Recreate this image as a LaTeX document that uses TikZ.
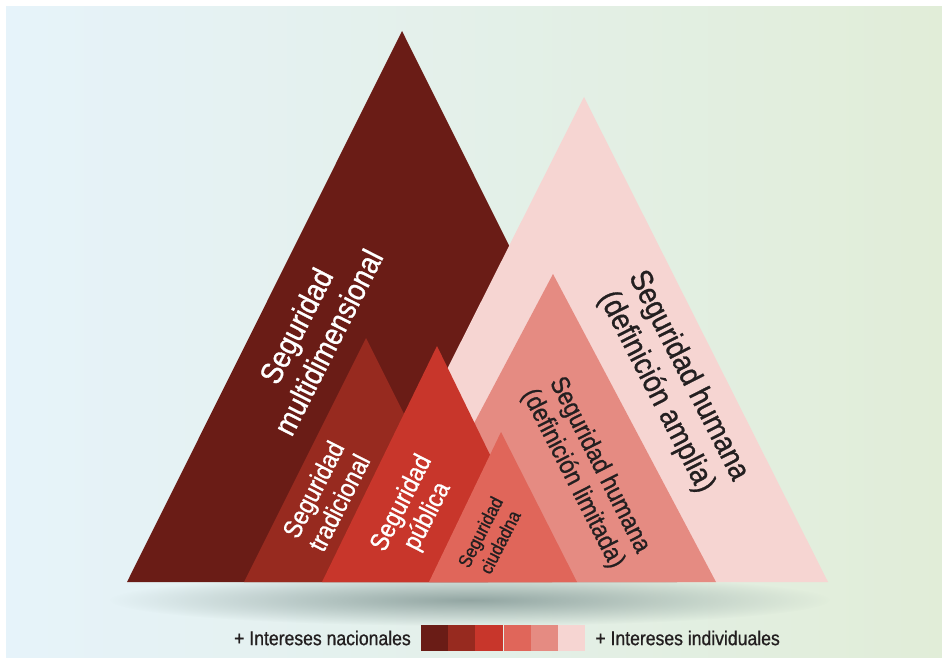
\documentclass[tikz,border=0pt]{standalone}
\usepackage{fontspec}
\setmainfont[FakeStretch=0.88, FakeBold=0.9]{Liberation Sans}
\usepackage{xcolor}
\usetikzlibrary{positioning, fadings}

\definecolor{multi}{HTML}{6A1C16}
\definecolor{trad}{HTML}{972A1F}
\definecolor{publ}{HTML}{C8362B}
\definecolor{ciud}{HTML}{E0665A}
\definecolor{limit}{HTML}{E58B82}
\definecolor{ampl}{HTML}{F6D5D2}
\definecolor{fondoizq}{HTML}{E6F3FA}
\definecolor{fondoder}{HTML}{E1EDD8}
\definecolor{sombracol}{HTML}{8A9E9B}
\definecolor{texto}{HTML}{231F20}

\tikzfading[name=sombra, inner color=transparent!10, outer color=transparent!100]

\tikzset{
  etiqueta/.style={align=center, inner sep=0pt},
  clara/.style={etiqueta, text=white},
  oscura/.style={etiqueta, text=texto},
  swatch/.style={minimum width=27.2pt, minimum height=26pt, inner sep=0pt, outer sep=0pt},
  leyenda/.style={text=texto, font=\fontsize{20}{24}\selectfont, inner sep=0pt}
}

\begin{document}
\begin{tikzpicture}[x=1pt, y=-1pt]
   \useasboundingbox (0,0) rectangle (942,658);
   % fondo
   \shade[left color=fondoizq, right color=fondoder] (6,7) rectangle (942,658);
   % sombra bajo la base
   \fill[sombracol, path fading=sombra] (470,600) ellipse [x radius=360, y radius=26];

   % montañas, de atrás hacia delante
   \fill[multi] (127,582) -- (402,31) -- (677,582) -- cycle;
   \fill[ampl]  (340,582) -- (584,97) -- (828,582) -- cycle;
   \fill[limit] (390,582) -- (553,274) -- (716,582) -- cycle;
   \fill[trad]  (244,582) -- (366,338) -- (488,582) -- cycle;
   \fill[publ]  (322,582) -- (437,346) -- (552,582) -- cycle;
   \fill[ciud]  (429,582) -- (501,432) -- (577,582) -- cycle;

   % textos
   \node[clara, rotate=63, font=\fontsize{31}{36}\selectfont] (multidim) at (312,334) {Seguridad\\multidimensional};
   \node[oscura, rotate=-63, font=\fontsize{31}{36}\selectfont] (amplia) at (672,384) {Seguridad humana\\(definición amplia)};
   \node[oscura, rotate=-63, font=\fontsize{26}{30}\selectfont] (limitada) at (586,472) {Seguridad humana\\(definición limitada)};
   \node[clara, rotate=63, font=\fontsize{26}{29}\selectfont] (tradic) at (326,496) {Seguridad\\tradicional};
   \node[clara, rotate=63, font=\fontsize{26}{29}\selectfont] (publica) at (415,510) {Seguridad\\pública};
   \node[oscura, rotate=63, font=\fontsize{19}{22}\selectfont] (ciudad) at (490,537) {Seguridad\\ciudadna};

   % leyenda
   \node[swatch, fill=multi] (sw1) at (434.6,638) {};
   \node[swatch, fill=trad, right=0pt of sw1] (sw2) {};
   \node[swatch, fill=publ, right=0pt of sw2] (sw3) {};
   \node[swatch, fill=ciud, right=1pt of sw3] (sw4) {};
   \node[swatch, fill=limit, right=0pt of sw4] (sw5) {};
   \node[swatch, fill=ampl, right=0pt of sw5] (sw6) {};
   \node[leyenda, left=10pt of sw1] (nacional) {+ Intereses nacionales};
   \node[leyenda, right=10pt of sw6] (individual) {+ Intereses individuales};
\end{tikzpicture}
\end{document}
